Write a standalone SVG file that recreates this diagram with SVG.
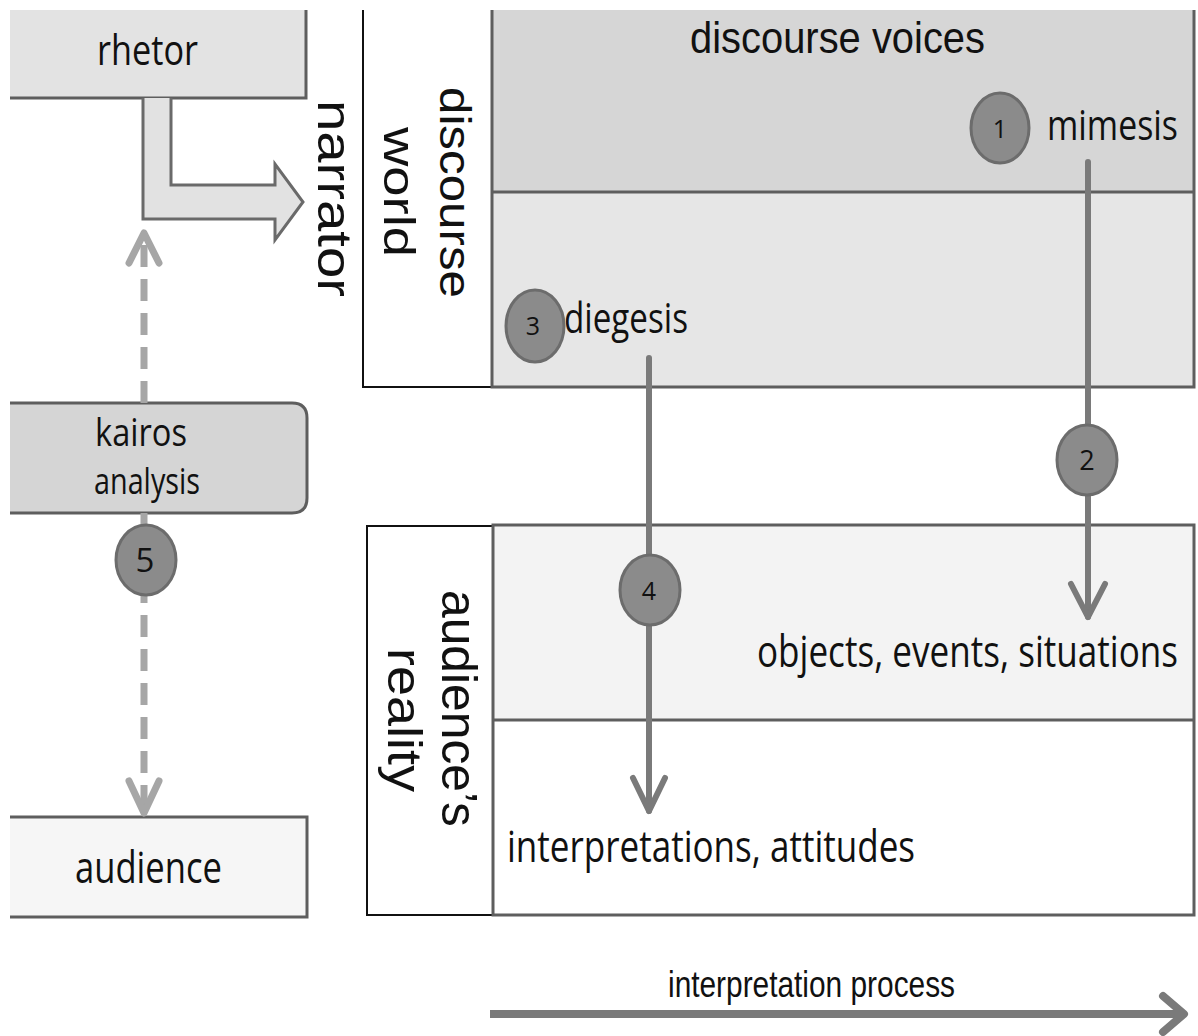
<svg xmlns="http://www.w3.org/2000/svg" width="1198" height="1036" viewBox="0 0 1198 1036">
  <style>
    .lbl { font-family: "Open Sans", "Liberation Sans", sans-serif; fill: #111; }
    .ar { font-family: "Liberation Sans", Arial, sans-serif; fill: #111; }
    .box { stroke: #5e5e5e; stroke-width: 3; fill: none; }
    .frame { stroke: #111; stroke-width: 2; fill: #fff; }
    .flow { stroke: #7a7a7a; stroke-width: 6; fill: none; stroke-linecap: round; stroke-linejoin: round; }
    .dash { stroke: #a6a6a6; stroke-width: 7; fill: none; stroke-dasharray: 22 12; }
    .head-d { stroke: #a6a6a6; stroke-width: 7; fill: none; stroke-linecap: round; stroke-linejoin: round; }
    .badge { fill: #8b8b8b; stroke: #6c6c6c; stroke-width: 3; }
    .num { font-family: "Open Sans", "Liberation Sans", sans-serif; fill: #111; text-anchor: middle; }
  </style>

  <rect width="1198" height="1036" fill="#fff"/>

  <!-- rhetor (box runs off the top/left page edge) -->
  <g id="rhetor">
    <rect x="10" y="10" width="296" height="88" fill="#e3e3e3"/>
    <path class="box" d="M306,10 V98 H10"/>
    <text class="lbl" transform="translate(97,65) scale(1,1.25)" font-size="34" textLength="101" lengthAdjust="spacingAndGlyphs">rhetor</text>
  </g>

  <!-- bent arrow from rhetor towards narrator -->
  <g id="narrator">
    <path d="M143,98 V219 H275 V240 L303,202 L275,164 V185 H171 V98" fill="#e2e2e2" stroke="#6a6a6a" stroke-width="3" stroke-linejoin="miter"/>
    <text class="ar" transform="translate(318,100) rotate(90)" font-size="48" textLength="197" lengthAdjust="spacingAndGlyphs">narrator</text>
  </g>

  <!-- discourse world -->
  <g id="discourse-world">
    <path d="M363,10 V387 H492" fill="#fff" stroke="#111" stroke-width="2"/>
    <text class="ar" transform="translate(440,192.5) rotate(90)" font-size="45" text-anchor="middle" textLength="211" lengthAdjust="spacingAndGlyphs">discourse</text>
    <text class="ar" transform="translate(384,192) rotate(90)" font-size="45" text-anchor="middle" textLength="130" lengthAdjust="spacingAndGlyphs">world</text>
  </g>

  <g id="discourse-voices">
    <rect x="492" y="10" width="702" height="182" fill="#d6d6d6"/>
    <rect x="492" y="192" width="702" height="195" fill="#e6e6e6"/>
    <path class="box" d="M492,10 V387 H1194 V10 M492,192 H1194"/>
    <text class="ar" transform="translate(690,53) scale(1,1.1)" font-size="40" textLength="295" lengthAdjust="spacingAndGlyphs">discourse voices</text>
    <text class="lbl" transform="translate(1047,140) scale(1,1.25)" font-size="33.5" textLength="131" lengthAdjust="spacingAndGlyphs">mimesis</text>
    <text class="lbl" transform="translate(564,333) scale(1,1.25)" font-size="33" textLength="124" lengthAdjust="spacingAndGlyphs">diegesis</text>
  </g>

  <!-- kairos analysis -->
  <g id="kairos">
    <path d="M10,403 H292 Q307,403 307,418 V498 Q307,513 292,513 H10 Z" fill="#d5d5d5"/>
    <path class="box" d="M10,403 H292 Q307,403 307,418 V498 Q307,513 292,513 H10"/>
    <text class="lbl" transform="translate(95,446) scale(1,1.25)" font-size="30" textLength="92" lengthAdjust="spacingAndGlyphs">kairos</text>
    <text class="lbl" transform="translate(94,494) scale(1,1.25)" font-size="29" textLength="106" lengthAdjust="spacingAndGlyphs">analysis</text>
  </g>

  <!-- audience -->
  <g id="audience">
    <rect x="10" y="817" width="297" height="100" fill="#f6f6f6"/>
    <path class="box" d="M10,817 H307 V917 H10"/>
    <text class="lbl" transform="translate(75,883) scale(1,1.25)" font-size="34.5" textLength="147" lengthAdjust="spacingAndGlyphs">audience</text>
  </g>

  <!-- audience's reality -->
  <g id="audience-reality">
    <rect class="frame" x="367" y="526" width="126" height="389"/>
    <rect x="493" y="525" width="701" height="195" fill="#f3f3f3"/>
    <rect x="493" y="720" width="701" height="195" fill="#fff"/>
    <path class="box" d="M493,525 H1194 V915 H493 Z M493,720 H1194"/>
    <text class="ar" transform="translate(442,708.5) rotate(90)" font-size="50" text-anchor="middle" textLength="237" lengthAdjust="spacingAndGlyphs">audience’s</text>
    <text class="ar" transform="translate(388,720) rotate(90)" font-size="48" text-anchor="middle" textLength="144" lengthAdjust="spacingAndGlyphs">reality</text>
    <text class="lbl" transform="translate(757,667) scale(1,1.25)" font-size="35" textLength="421" lengthAdjust="spacingAndGlyphs">objects, events, situations</text>
    <text class="lbl" transform="translate(507,862) scale(1,1.25)" font-size="35" textLength="408" lengthAdjust="spacingAndGlyphs">interpretations, attitudes</text>
  </g>

  <!-- connectors -->
  <g id="connectors">
    <!-- mimesis down to objects, events, situations -->
    <path class="flow" d="M1088,162 V617"/>
    <path class="flow" d="M1071,584 L1088,617 L1105,584"/>
    <!-- diegesis down to interpretations, attitudes -->
    <path class="flow" d="M649,358 V811"/>
    <path class="flow" d="M633,778 L649,811 L665,778"/>
    <!-- kairos analysis links (dashed) -->
    <path class="dash" d="M144,403 V236"/>
    <path class="head-d" d="M129,263 L144,233 L159,263"/>
    <path class="dash" d="M144,513 V812"/>
    <path class="head-d" d="M129,781 L144,813 L159,781"/>
    <!-- interpretation process -->
    <path d="M490,1014 H1180" stroke="#7a7a7a" stroke-width="8" fill="none"/>
    <path d="M1163,996 L1184,1014 L1163,1032" stroke="#7a7a7a" stroke-width="8" fill="none" stroke-linecap="round" stroke-linejoin="round"/>
    <text class="ar" transform="translate(668,997) scale(1,1.25)" font-size="30" textLength="287" lengthAdjust="spacingAndGlyphs">interpretation process</text>
  </g>

  <!-- numbered badges -->
  <g id="badge-1"><ellipse class="badge" cx="1000" cy="128" rx="29" ry="35"/><text class="num" x="1000" y="138" font-size="25">1</text></g>
  <g id="badge-2"><ellipse class="badge" cx="1087" cy="460" rx="30" ry="35"/><text class="num" x="1087" y="470" font-size="27">2</text></g>
  <g id="badge-3"><ellipse class="badge" cx="535" cy="326" rx="29" ry="36"/><text class="num" x="533" y="335" font-size="25">3</text></g>
  <g id="badge-4"><ellipse class="badge" cx="650" cy="590" rx="30" ry="35"/><text class="num" x="649" y="600" font-size="25">4</text></g>
  <g id="badge-5"><ellipse class="badge" cx="146" cy="560" rx="30" ry="35"/><text class="num" x="145" y="572" font-size="33">5</text></g>
</svg>
